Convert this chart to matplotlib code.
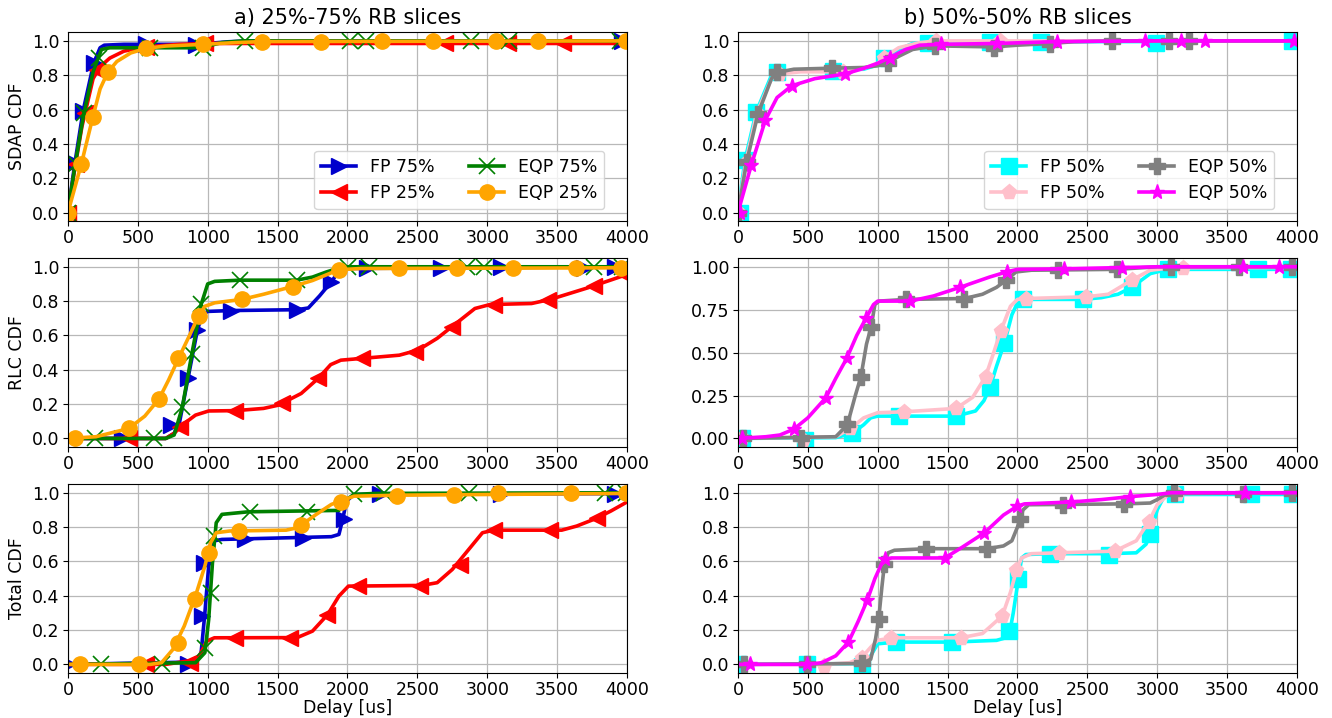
import matplotlib
matplotlib.use("Agg")
import matplotlib.pyplot as plt
from matplotlib.lines import Line2D

# ---------------------------------------------------------------------------
# Delay CDF data (delay in microseconds, cumulative probability)
# Each series: a curve (pairs) and the sampled points carrying markers.
# ---------------------------------------------------------------------------

# ---- a) 25%-75% RB slices : SDAP ----
SDAP_FP75 = [(0, 0), (50, 0.29), (108, 0.59), (184, 0.87), (230, 0.96), (260, 0.975),
             (400, 0.98), (900, 0.98), (1000, 0.985), (1150, 0.995), (1300, 1.0), (4000, 1.0)]
SDAP_FP75_MK = [(0, 0), (50, 0.29), (108, 0.59), (184, 0.87), (556, 0.98), (913, 0.975), (3965, 1.0)]

SDAP_FP25 = [(0, 0), (50, 0.26), (100, 0.5), (180, 0.78), (230, 0.85), (300, 0.9), (400, 0.94),
             (550, 0.965), (800, 0.98), (1000, 0.985), (4000, 0.985)]
SDAP_FP25_MK = [(0, 0), (60, 0.28), (120, 0.58), (205, 0.83), (560, 0.965), (980, 0.985),
                (2700, 0.985), (3150, 0.985), (3540, 0.985), (3985, 0.985)]

SDAP_EQP75 = [(0, 0), (50, 0.27), (110, 0.56), (180, 0.82), (240, 0.95), (300, 0.96), (900, 0.96),
              (1000, 0.97), (1100, 0.99), (1250, 1.0), (4000, 1.0)]
SDAP_EQP75_MK = [(0, 0), (55, 0.28), (115, 0.58), (225, 0.9), (590, 0.96), (970, 0.96), (1265, 1.0),
                 (2020, 1.0), (2130, 1.0), (2885, 1.0), (3155, 1.0), (3950, 1.0)]

SDAP_EQP25 = [(0, 0), (95, 0.28), (178, 0.555), (230, 0.72), (284, 0.816), (350, 0.88), (450, 0.93),
              (562, 0.957), (700, 0.97), (967, 0.98), (1200, 0.99), (1391, 0.996), (4000, 1.0)]
SDAP_EQP25_MK = [(0, 0), (95, 0.28), (178, 0.555), (284, 0.816), (562, 0.957), (967, 0.98),
                 (1391, 0.996), (1812, 0.996), (2250, 1.0), (2615, 1.0), (3060, 1.0), (3365, 1.0),
                 (3992, 1.0)]

# ---- a) 25%-75% RB slices : RLC ----
RLC_FP75 = [(0, 0), (700, 0.0), (760, 0.03), (800, 0.1), (859, 0.35), (926, 0.63), (960, 0.72),
            (1000, 0.74), (1170, 0.745), (1640, 0.75), (1720, 0.76), (1800, 0.83), (1885, 0.913),
            (1940, 0.975), (2000, 0.99), (4000, 1.0)]
RLC_FP75_MK = [(386, 0.0), (737, 0.08), (859, 0.35), (926, 0.63), (1170, 0.745), (1642, 0.75),
               (1885, 0.913), (2142, 0.99), (2669, 0.99), (3101, 1.0), (3695, 0.99), (3911, 1.0)]

RLC_FP25 = [(0, 0), (700, 0.0), (760, 0.03), (832, 0.087), (913, 0.136), (1007, 0.16), (1200, 0.162),
            (1400, 0.175), (1507, 0.194), (1669, 0.262), (1791, 0.35), (1880, 0.43), (1953, 0.456),
            (2100, 0.466), (2371, 0.485), (2506, 0.515), (2642, 0.583), (2777, 0.67), (2912, 0.757),
            (3020, 0.78), (3317, 0.786), (3452, 0.81), (3722, 0.878), (3892, 0.925), (4000, 0.955)]
RLC_FP25_MK = [(440, 0.0), (800, 0.068), (1197, 0.16), (1534, 0.204), (1791, 0.35), (2101, 0.466),
               (2480, 0.505), (2750, 0.65), (3047, 0.78), (3438, 0.806), (3762, 0.89), (3992, 0.95)]

RLC_EQP75 = [(0, 0), (700, 0.0), (760, 0.02), (818, 0.18), (886, 0.49), (953, 0.78), (1000, 0.9),
             (1050, 0.915), (1232, 0.922), (1637, 0.922), (1750, 0.94), (1850, 0.97), (1950, 0.995),
             (2007, 1.0), (4000, 1.0)]
RLC_EQP75_MK = [(197, 0.0), (616, 0.0), (818, 0.184), (891, 0.489), (953, 0.786), (1232, 0.922),
                (1637, 0.922), (2007, 1.0), (2155, 1.0), (2858, 1.0), (2979, 1.0), (3762, 1.0),
                (3965, 1.0)]

RLC_EQP25 = [(0, 0), (200, 0.01), (435, 0.058), (550, 0.13), (651, 0.229), (720, 0.34), (791, 0.466),
             (870, 0.6), (935, 0.715), (980, 0.77), (1050, 0.79), (1245, 0.81), (1400, 0.84),
             (1607, 0.885), (1750, 0.92), (1939, 0.983), (2100, 0.99), (4000, 0.994)]
RLC_EQP25_MK = [(49, 0.0), (435, 0.058), (651, 0.229), (791, 0.466), (935, 0.715), (1245, 0.81),
                (1607, 0.885), (1939, 0.983), (2371, 0.99), (2785, 0.99), (3182, 0.994),
                (3633, 0.994), (3957, 0.994)]

# ---- a) 25%-75% RB slices : Total ----
TOT_FP75 = [(0, 0), (913, 0.014), (953, 0.068), (980, 0.301), (1007, 0.573), (1034, 0.718),
            (1102, 0.728), (1885, 0.744), (1939, 0.757), (1966, 0.845), (1993, 0.951),
            (2047, 0.99), (4000, 0.995)]
TOT_FP75_MK = [(0, 0), (859, 0.0), (961, 0.282), (975, 0.592), (1264, 0.73), (1683, 0.735),
               (1972, 0.849), (2231, 0.995), (3101, 0.99), (3911, 0.995)]

TOT_FP25 = [(0, 0), (700, 0.0), (859, 0.02), (940, 0.05), (994, 0.136), (1048, 0.155), (1640, 0.156),
            (1750, 0.194), (1858, 0.29), (1939, 0.398), (2007, 0.456), (2533, 0.46), (2642, 0.476),
            (2750, 0.553), (2858, 0.66), (2966, 0.767), (3047, 0.782), (3533, 0.782), (3641, 0.806),
            (3776, 0.849), (3884, 0.893), (4000, 0.946)]
TOT_FP25_MK = [(562, 0.0), (872, 0.01), (1197, 0.155), (1588, 0.155), (1853, 0.29), (2074, 0.458),
               (2520, 0.458), (2804, 0.577), (3047, 0.78), (3452, 0.782), (3789, 0.854)]

TOT_EQP75 = [(0, 0), (913, 0.01), (980, 0.068), (1007, 0.26), (1034, 0.59), (1061, 0.825),
             (1102, 0.874), (1292, 0.889), (1939, 0.897), (1993, 0.96), (2047, 0.99), (2200, 0.996),
             (4000, 1.0)]
TOT_EQP75_MK = [(238, 0.0), (670, 0.0), (980, 0.097), (1021, 0.417), (1048, 0.748), (1305, 0.889),
                (1710, 0.889), (2047, 0.99), (2263, 0.996), (2871, 0.996), (3843, 0.996), (3990, 1.0)]

TOT_EQP25 = [(0, 0), (589, 0.0), (670, 0.01), (751, 0.087), (832, 0.223), (913, 0.4), (980, 0.573),
             (1021, 0.709), (1061, 0.767), (1156, 0.777), (1561, 0.782), (1642, 0.796),
             (1777, 0.874), (1885, 0.932), (2047, 0.98), (2400, 0.986), (4000, 0.996)]
TOT_EQP25_MK = [(89, 0.0), (508, 0.0), (791, 0.126), (908, 0.379), (1007, 0.647), (1224, 0.777),
                (1669, 0.812), (1953, 0.946), (2358, 0.981), (2763, 0.986), (3079, 0.996),
                (3600, 0.996), (3992, 0.996)]

# ---- b) 50%-50% RB slices : SDAP ----
SDAP_FP50A = [(0, 0), (49, 0.3), (130, 0.584), (230, 0.78), (278, 0.816), (400, 0.83), (683, 0.83),
              (900, 0.835), (1000, 0.86), (1048, 0.9), (1150, 0.95), (1250, 0.985), (1358, 0.99),
              (1804, 0.995), (2993, 0.996), (3200, 1.0), (4000, 1.0)]
SDAP_FP50A_MK = [(16, 0.0), (49, 0.304), (130, 0.584), (278, 0.816), (683, 0.826), (1048, 0.9),
                 (1358, 0.99), (1804, 0.995), (2169, 0.996), (2993, 0.99), (3965, 1.0)]

SDAP_FP50B = [(0, 0), (55, 0.29), (135, 0.58), (240, 0.78), (292, 0.807), (450, 0.82), (751, 0.82),
              (900, 0.84), (1000, 0.87), (1048, 0.905), (1150, 0.96), (1300, 0.99), (1420, 1.0),
              (4000, 1.0)]
SDAP_FP50B_MK = [(10, 0.0), (70, 0.3), (150, 0.57), (292, 0.807), (751, 0.816), (1048, 0.903),
                 (1420, 1.0), (1872, 1.0)]

SDAP_EQP50A = [(0, 0), (62, 0.294), (143, 0.574), (240, 0.78), (278, 0.816), (400, 0.835),
               (670, 0.841), (900, 0.845), (1000, 0.855), (1075, 0.874), (1150, 0.91), (1250, 0.95),
               (1413, 0.971), (1831, 0.965), (2000, 0.975), (2236, 0.985), (2400, 0.995),
               (2674, 1.0), (4000, 1.0)]
SDAP_EQP50A_MK = [(0, 0.0), (62, 0.294), (143, 0.574), (278, 0.816), (670, 0.841), (1075, 0.874),
                  (1413, 0.971), (1831, 0.961), (2236, 0.981), (2674, 1.0), (3087, 1.0), (3230, 1.0)]

SDAP_EQP50B = [(0, 0), (95, 0.275), (197, 0.54), (280, 0.67), (386, 0.739), (550, 0.78), (764, 0.807),
               (900, 0.84), (1000, 0.87), (1088, 0.903), (1200, 0.95), (1300, 0.975), (1453, 0.98),
               (1853, 0.985), (2285, 0.996), (3000, 1.0), (4000, 1.0)]
SDAP_EQP50B_MK = [(16, 0.0), (95, 0.275), (197, 0.54), (386, 0.739), (764, 0.807), (1088, 0.903),
                  (1453, 0.98), (1853, 0.985), (2285, 0.996), (2912, 1.0), (3168, 1.0), (3344, 1.0),
                  (3978, 1.0)]

# ---- b) 50%-50% RB slices : RLC ----
RLC_FP50A = [(0, 0), (700, 0.005), (818, 0.03), (900, 0.08), (950, 0.12), (1000, 0.13), (1561, 0.13),
             (1700, 0.16), (1760, 0.22), (1804, 0.297), (1850, 0.42), (1907, 0.557), (1960, 0.72),
             (2000, 0.79), (2042, 0.81), (2466, 0.81), (2600, 0.82), (2720, 0.84), (2817, 0.88),
             (2950, 0.96), (3074, 0.985), (4000, 0.985)]
RLC_FP50A_MK = [(30, 0.0), (481, -0.01), (818, 0.03), (1156, 0.128), (1561, 0.128), (1804, 0.297),
                (1907, 0.557), (2042, 0.81), (2466, 0.81), (2817, 0.88), (3074, 0.985), (3722, 0.985),
                (3957, 0.985)]

RLC_FP50B = [(0, 0), (700, 0.01), (805, 0.058), (900, 0.12), (1000, 0.15), (1188, 0.155),
             (1561, 0.175), (1680, 0.24), (1772, 0.36), (1830, 0.5), (1880, 0.625), (1950, 0.77),
             (2000, 0.81), (2061, 0.815), (2493, 0.825), (2650, 0.84), (2817, 0.922), (2950, 0.98),
             (3100, 0.994), (4000, 0.996)]
RLC_FP50B_MK = [(30, 0.0), (467, -0.01), (805, 0.058), (1188, 0.155), (1561, 0.175), (1772, 0.36),
                (1880, 0.625), (2061, 0.815), (2493, 0.825), (2817, 0.922), (3182, 0.994)]

RLC_EQP50A = [(0, 0), (700, 0.01), (783, 0.08), (840, 0.25), (880, 0.36), (920, 0.55), (953, 0.65),
              (980, 0.78), (1010, 0.8), (1205, 0.81), (1621, 0.815), (1750, 0.84), (1850, 0.88),
              (1920, 0.922), (1990, 0.97), (2100, 0.98), (2709, 0.985), (3000, 1.0), (4000, 1.0)]
RLC_EQP50A_MK = [(35, 0.0), (454, 0.0), (783, 0.082), (880, 0.36), (953, 0.65), (1205, 0.81),
                 (1621, 0.815), (1920, 0.922), (2290, 0.98), (2709, 0.985), (3101, 1.0), (3587, 1.0),
                 (3965, 1.0)]

RLC_EQP50B = [(0, 0), (200, 0.01), (300, 0.02), (400, 0.054), (500, 0.12), (629, 0.237), (700, 0.35),
              (778, 0.466), (850, 0.6), (918, 0.703), (970, 0.78), (1000, 0.8), (1232, 0.8),
              (1400, 0.83), (1588, 0.88), (1800, 0.94), (1926, 0.971), (2000, 0.985), (2331, 0.988),
              (3000, 1.0), (4000, 1.0)]
RLC_EQP50B_MK = [(30, 0.0), (400, 0.054), (629, 0.237), (778, 0.466), (918, 0.703), (1232, 0.8),
                 (1588, 0.88), (1926, 0.971), (2331, 0.988), (2750, 0.994), (3614, 0.996),
                 (3870, 0.996)]

# ---- b) 50%-50% RB slices : Total ----
TOT_FP50A = [(0, 0), (900, 0.005), (950, 0.05), (1000, 0.12), (1129, 0.13), (1534, 0.13),
             (1850, 0.14), (1939, 0.16), (1970, 0.3), (2007, 0.5), (2030, 0.62), (2060, 0.64),
             (2236, 0.645), (2655, 0.645), (2850, 0.65), (2920, 0.7), (2952, 0.757), (3000, 0.9),
             (3050, 0.98), (3128, 0.99), (4000, 0.99)]
TOT_FP50A_MK = [(0, 0.0), (494, 0.0), (886, -0.01), (1129, 0.13), (1534, 0.13), (1939, 0.194),
                (2007, 0.495), (2236, 0.646), (2655, 0.64), (2952, 0.757), (3128, 0.99), (3668, 0.99),
                (3965, 0.99)]

TOT_FP50B = [(0, 0), (616, 0.0), (800, 0.01), (886, 0.04), (950, 0.1), (1000, 0.14), (1097, 0.155),
             (1594, 0.155), (1750, 0.18), (1891, 0.282), (1950, 0.42), (1993, 0.55), (2030, 0.62),
             (2100, 0.645), (2296, 0.65), (2696, 0.66), (2850, 0.72), (2939, 0.83), (3000, 0.93),
             (3080, 0.99), (3141, 0.995), (4000, 1.0)]
TOT_FP50B_MK = [(616, -0.01), (886, 0.04), (1097, 0.155), (1594, 0.155), (1891, 0.282), (1993, 0.55),
                (2296, 0.65), (2696, 0.66), (2939, 0.83), (3141, 0.995)]

TOT_EQP50A = [(0, 0), (886, 0.005), (950, 0.03), (985, 0.15), (1007, 0.262), (1030, 0.45),
              (1048, 0.583), (1075, 0.65), (1120, 0.665), (1345, 0.674), (1785, 0.674), (1900, 0.69),
              (1960, 0.72), (2000, 0.8), (2040, 0.9), (2080, 0.93), (2763, 0.935), (2950, 0.94),
              (3000, 0.96), (3050, 0.985), (3122, 0.996), (4000, 1.0)]
TOT_EQP50A_MK = [(43, 0.0), (494, 0.0), (886, 0.01), (1007, 0.262), (1048, 0.583), (1345, 0.674),
                 (1785, 0.674), (2015, 0.845), (2325, 0.93), (2763, 0.935), (3122, 0.996),
                 (3614, 0.995), (3965, 1.0)]

TOT_EQP50B = [(0, 0), (500, 0.0), (600, 0.01), (700, 0.05), (791, 0.13), (860, 0.25), (926, 0.375),
              (980, 0.5), (1030, 0.59), (1053, 0.612), (1100, 0.62), (1480, 0.62), (1600, 0.68),
              (1764, 0.767), (1900, 0.87), (1999, 0.922), (2050, 0.935), (2385, 0.946), (2600, 0.96),
              (2804, 0.977), (3000, 0.99), (3100, 1.0), (4000, 1.0)]
TOT_EQP50B_MK = [(89, 0.0), (494, 0.0), (791, 0.13), (926, 0.375), (1053, 0.612), (1480, 0.62),
                 (1764, 0.767), (1999, 0.922), (2385, 0.946), (2804, 0.977), (3627, 1.0)]

# Series styling
LEFT_STYLE = [
    ("FP 75%", "#0000cc", ">"),
    ("FP 25%", "red", "<"),
    ("EQP 75%", "green", "x"),
    ("EQP 25%", "orange", "o"),
]
RIGHT_STYLE = [
    ("FP 50%", "cyan", "s"),
    ("FP 50%", "pink", "p"),
    ("EQP 50%", "gray", "P"),
    ("EQP 50%", "magenta", "*"),
]

LEFT_ROWS = [
    [(SDAP_FP75, SDAP_FP75_MK), (SDAP_FP25, SDAP_FP25_MK),
     (SDAP_EQP75, SDAP_EQP75_MK), (SDAP_EQP25, SDAP_EQP25_MK)],
    [(RLC_FP75, RLC_FP75_MK), (RLC_FP25, RLC_FP25_MK),
     (RLC_EQP75, RLC_EQP75_MK), (RLC_EQP25, RLC_EQP25_MK)],
    [(TOT_FP75, TOT_FP75_MK), (TOT_FP25, TOT_FP25_MK),
     (TOT_EQP75, TOT_EQP75_MK), (TOT_EQP25, TOT_EQP25_MK)],
]
RIGHT_ROWS = [
    [(SDAP_FP50A, SDAP_FP50A_MK), (SDAP_FP50B, SDAP_FP50B_MK),
     (SDAP_EQP50A, SDAP_EQP50A_MK), (SDAP_EQP50B, SDAP_EQP50B_MK)],
    [(RLC_FP50A, RLC_FP50A_MK), (RLC_FP50B, RLC_FP50B_MK),
     (RLC_EQP50A, RLC_EQP50A_MK), (RLC_EQP50B, RLC_EQP50B_MK)],
    [(TOT_FP50A, TOT_FP50A_MK), (TOT_FP50B, TOT_FP50B_MK),
     (TOT_EQP50A, TOT_EQP50A_MK), (TOT_EQP50B, TOT_EQP50B_MK)],
]

ROW_LABELS = ["SDAP CDF", "RLC CDF", "Total CDF"]
COL_TITLES = ["a) 25%-75% RB slices", "b) 50%-50% RB slices"]
X_TICKS = [0, 500, 1000, 1500, 2000, 2500, 3000, 3500, 4000]
Y_TICKS = [0.0, 0.2, 0.4, 0.6, 0.8, 1.0]
Y_TICKS_QUARTER = [0.0, 0.25, 0.5, 0.75, 1.0]

LW = 2.6
MS = 11

fig = plt.figure(figsize=(13.32, 7.18), dpi=100)

col_left = [0.051, 0.554]
col_width = 0.4197
row_bottom = [0.692, 0.3774, 0.0627]
row_height = 0.263


def draw_series(ax, curve, marks, color, marker):
    cx = [p[0] for p in curve]
    cy = [p[1] for p in curve]
    mx = [p[0] for p in marks]
    my = [p[1] for p in marks]
    ax.plot(cx, cy, color=color, lw=LW, solid_capstyle="round")
    if marker == "x":
        ax.plot(mx, my, ls="none", marker=marker, color=color, ms=MS, mew=1.2)
    else:
        ax.plot(mx, my, ls="none", marker=marker, color=color, ms=MS)


for c, (rows, styles) in enumerate([(LEFT_ROWS, LEFT_STYLE), (RIGHT_ROWS, RIGHT_STYLE)]):
    for r in range(3):
        ax = fig.add_axes([col_left[c], row_bottom[r], col_width, row_height])
        for (curve, marks), (label, color, marker) in zip(rows[r], styles):
            draw_series(ax, curve, marks, color, marker)
        ax.set_xlim(0, 4000)
        ax.set_ylim(-0.05, 1.05)
        ax.set_xticks(X_TICKS)
        if c == 1 and r == 1:
            ax.set_yticks(Y_TICKS_QUARTER)
        else:
            ax.set_yticks(Y_TICKS)
        ax.tick_params(labelsize=12.5, pad=2.5)
        ax.grid(True, color="#b8b8b8", lw=0.9)
        ax.set_axisbelow(True)
        if c == 0:
            ax.set_ylabel(ROW_LABELS[r], fontsize=12.5)
        if r == 0:
            ax.set_title(COL_TITLES[c], fontsize=15)
            handles = []
            for label, color, marker in styles:
                kw = dict(mew=1.2) if marker == "x" else {}
                handles.append(Line2D([], [], color=color, marker=marker, lw=LW, ms=MS,
                                      label=label, **kw))
            ax.legend(handles=handles, ncol=2, loc="lower right",
                      bbox_to_anchor=(0.975, 0.016), fontsize=12.5)
        if r == 2:
            ax.set_xlabel("Delay [us]", fontsize=12.5, labelpad=0)

fig.savefig("out.png", dpi=100)
